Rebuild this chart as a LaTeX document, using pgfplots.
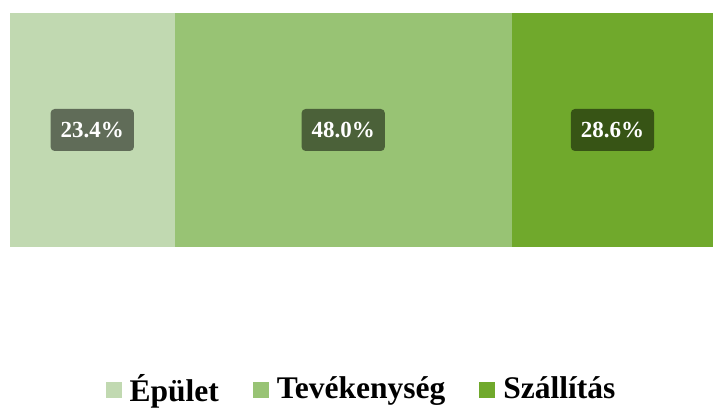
\documentclass[border=0pt]{standalone}
\usepackage{fontspec}
\setmainfont{Liberation Serif}
\usepackage{pgfplots}
\pgfplotsset{compat=1.18}
\definecolor{cA}{HTML}{C1D9B1}
\definecolor{cB}{HTML}{98C374}
\definecolor{cC}{HTML}{70A92C}
\tikzset{labelbox/.style={fill=black, fill opacity=0.5, text opacity=1, text=white,
    rounded corners=4bp, inner xsep=10bp, inner ysep=0pt, minimum height=42bp,
    font=\fontsize{23bp}{25bp}\selectfont\bfseries, anchor=center}}
\begin{document}
\begin{tikzpicture}
\useasboundingbox (-10bp,-163bp) rectangle (703bp,247bp);
\begin{axis}[
  at={(0,0)}, anchor=south west,
  scale only axis, width=703bp, height=234bp,
  xbar stacked, bar width=234bp,
  xmin=0, xmax=100, ymin=-0.5, ymax=0.5,
  axis line style={draw=none}, ticks=none,
  clip=false,
  legend columns=3,
  legend style={draw=none, at={(0.5,-0.605)}, anchor=center,
    font=\fontsize{31.5bp}{34bp}\selectfont\bfseries,
    /tikz/every odd column/.append style={column sep=6bp},
    /tikz/every even column/.append style={column sep=32bp},
    inner sep=0pt},
  legend image code/.code={\fill[#1] (0bp,-9bp) rectangle (16bp,7bp);},
]
\addplot[fill=cA, draw=none] coordinates {(23.4,0)};
\addlegendentry{Épület}
\addplot[fill=cB, draw=none] coordinates {(48.0,0)};
\addlegendentry{Tevékenység}
\addplot[fill=cC, draw=none] coordinates {(28.6,0)};
\addlegendentry{Szállítás}
\coordinate (la) at (axis cs:11.7,0);
\coordinate (lb) at (axis cs:47.4,0);
\coordinate (lc) at (axis cs:85.7,0);
\end{axis}
\node[labelbox] at (la) {23.4\%};
\node[labelbox] at (lb) {48.0\%};
\node[labelbox] at (lc) {28.6\%};
\end{tikzpicture}
\end{document}
